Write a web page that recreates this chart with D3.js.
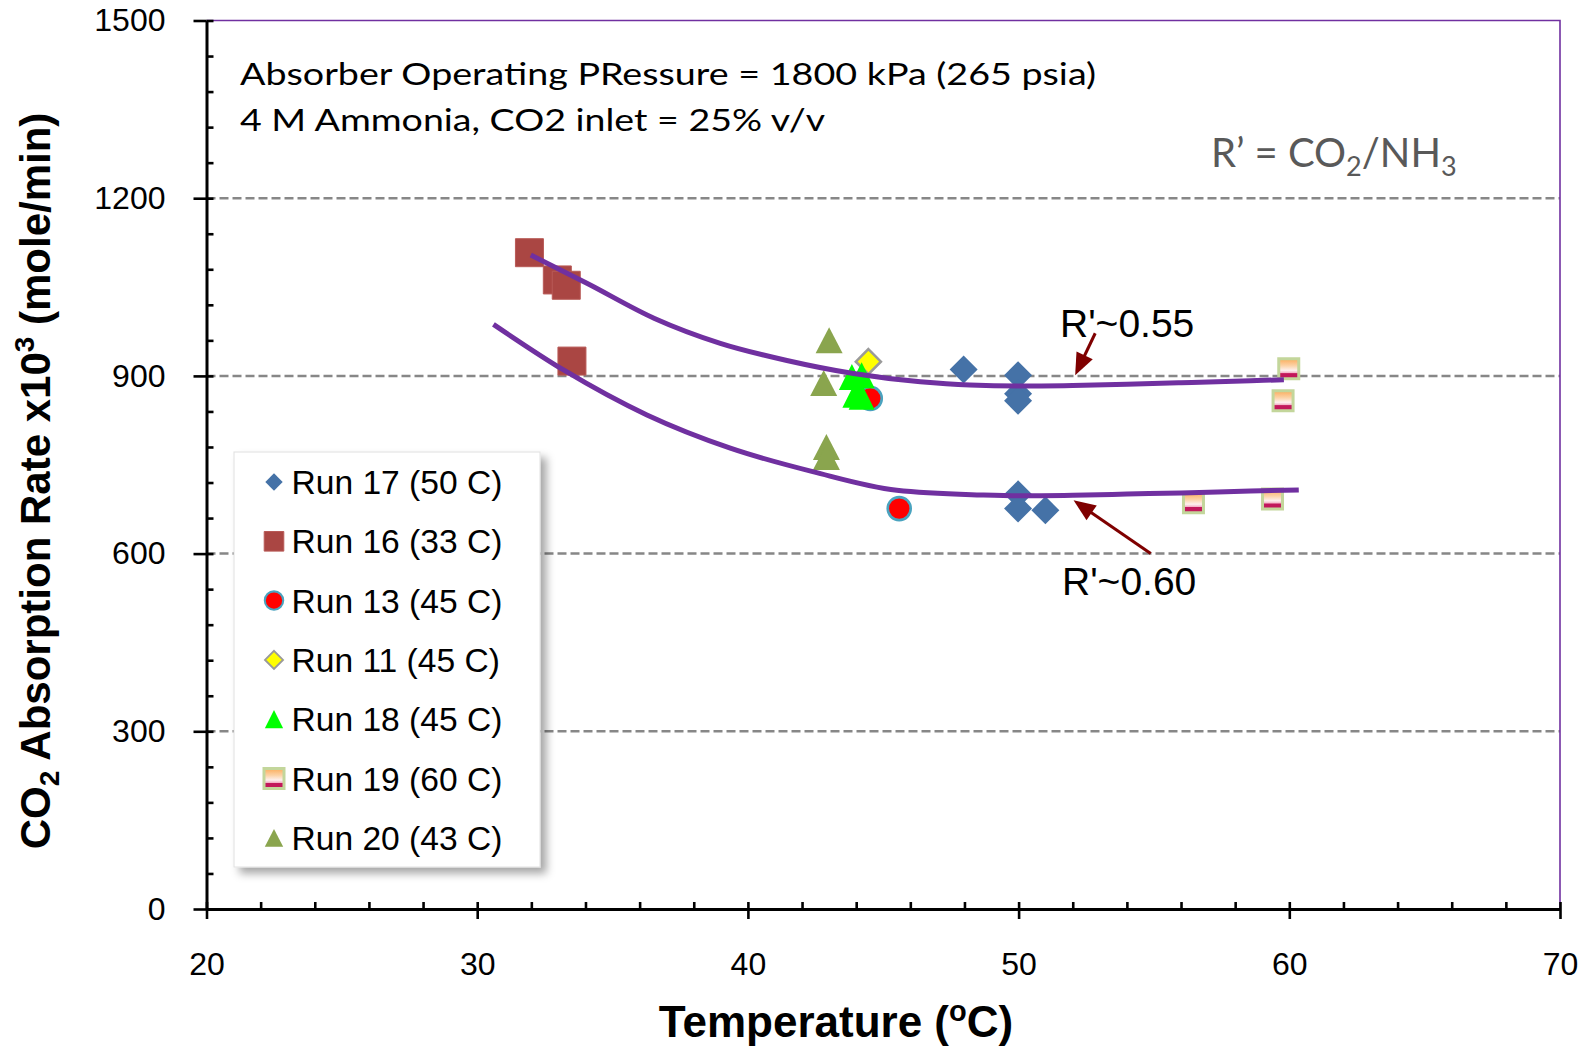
<!DOCTYPE html>
<html><head><meta charset="utf-8">
<script src="https://cdn.jsdelivr.net/npm/d3@7"></script>
<style>body{margin:0;background:#fff}svg{display:block}</style>
</head><body>
<svg id="c" width="1587" height="1047"></svg>
<script>
// ---- data (temperature °C, CO2 absorption rate x10^3 mole/min) ----
const run17 = [[47.97,911],[49.98,901],[49.98,870],[49.98,858],[49.98,700],[49.98,676],[50.99,673]];
const run16 = [[31.93,1108],[32.96,1062],[33.29,1053],[33.5,925]];
const run13 = [[44.52,862],[45.59,676]];
const run11 = [[44.45,924]];
const run18 = [[43.84,898],[44.2,901],[43.97,868],[44.2,865]];
const run19 = [[59.98,912],[59.77,858],[56.46,686],[59.38,692]];
const run20 = [[43.0,960],[42.8,888],[42.9,780],[42.9,763]];
const curve055 = [[31.98,1104],[34.07,1056],[36.55,997],[38.98,955],[41.44,926],[43.9,904],[46.37,890],[48.2,884.5],[50,883],[52,884],[54,886],[56,888.5],[58.57,891.8],[59.8,893.5]];
const curve060 = [[30.6,987],[33.19,910],[36.27,834],[39.35,778],[42.43,738],[45.5,707],[48.6,699],[50,697.5],[52,698.5],[54,700.5],[56,702.5],[58.57,705.6],[60.35,707.5]];
const xTicks = [20,30,40,50,60,70];
const yTicks = [0,300,600,900,1200,1500];
const gridValues = [300,600,900,1200];
const legendNames = ["Run 17 (50 C)","Run 16 (33 C)","Run 13 (45 C)","Run 11 (45 C)","Run 18 (45 C)","Run 19 (60 C)","Run 20 (43 C)"];
const label055 = {text:"R'~0.55", arrowFrom:[52.83,972], arrowTo:[52.09,901]};
const label060 = {text:"R'~0.60", arrowFrom:[54.88,600], arrowTo:[52.03,690]};

const svg = d3.select("#c");
const L=206.5,R=1560,T=20.5,B=909;
const x = d3.scaleLinear().domain([20,70]).range([L,R]);
const y = d3.scaleLinear().domain([0,1500]).range([B,T]);
const FONT = "'Liberation Sans', Arial, sans-serif";

const defs = svg.append("defs");
const g19 = defs.append("linearGradient").attr("id","g19").attr("x1",0).attr("y1",0).attr("x2",0).attr("y2",1);
[[0,"#fbac5a"],[0.35,"#fcd3a8"],[0.58,"#fdf0ee"],[0.7,"#f4b3c8"],[0.74,"#c2185b"],[1,"#c2185b"]]
  .forEach(([o,c])=>g19.append("stop").attr("offset",o).attr("stop-color",c));
const sh = defs.append("filter").attr("id","sh").attr("x","-10%").attr("y","-10%").attr("width","130%").attr("height","130%");
sh.append("feDropShadow").attr("dx",6).attr("dy",6).attr("stdDeviation",4).attr("flood-color","#000").attr("flood-opacity",0.35);

// gridlines
svg.append("g").selectAll("line").data(gridValues).join("line")
  .attr("x1",L).attr("x2",R).attr("y1",d=>y(d)).attr("y2",d=>y(d))
  .attr("stroke","#878787").attr("stroke-width",2.5).attr("stroke-dasharray","9,4");

// plot border top/right
svg.append("path").attr("d",`M${L},${T}H${R}V${B}`).attr("fill","none").attr("stroke","#7030a0").attr("stroke-width",1.6);

// shapes
function diamond(cx,cy,r){return `M${cx},${cy-r}L${cx+r},${cy}L${cx},${cy+r}L${cx-r},${cy}Z`;}
function square(cx,cy,s){const h=s/2;return `M${cx-h},${cy-h}h${s}v${s}h${-s}Z`;}
function tri(cx,cy,w,h){return `M${cx},${cy-h/2}L${cx+w/2},${cy+h/2}L${cx-w/2},${cy+h/2}Z`;}

const styles = [
  {data:run17, draw:(g,cx,cy,k)=>g.append("path").attr("d",diamond(cx,cy,14*k)).attr("fill","#4572a7")},
  {data:run16, draw:(g,cx,cy,k)=>g.append("path").attr("d",square(cx,cy,28*k)).attr("fill","#aa4643").attr("stroke","#b85a57").attr("stroke-width",1)},
  {data:run13, draw:(g,cx,cy,k)=>g.append("circle").attr("cx",cx).attr("cy",cy).attr("r",11.5*k).attr("fill","#ff0000").attr("stroke","#4aa3bf").attr("stroke-width",2.6*k)},
  {data:run11, draw:(g,cx,cy,k)=>g.append("path").attr("d",diamond(cx,cy,12.5*k)).attr("fill","#ffff00").attr("stroke","#9a9a9a").attr("stroke-width",2.6*k)},
  {data:run18, draw:(g,cx,cy,k)=>g.append("path").attr("d",tri(cx,cy,26*k,26*k)).attr("fill","#00ff00")},
  {data:run19, draw:(g,cx,cy,k)=>g.append("path").attr("d",square(cx,cy,20*k)).attr("fill","url(#g19)").attr("stroke","#c3d69b").attr("stroke-width",3)},
  {data:run20, draw:(g,cx,cy,k)=>g.append("path").attr("d",tri(cx,cy,27*k,26*k)).attr("fill","#8aa54e")}
];

const mg = svg.append("g");
styles.forEach(s=>s.data.forEach(d=>s.draw(mg,x(d[0]),y(d[1]),1)));

// trend curves
const line = d3.line().x(d=>x(d[0])).y(d=>y(d[1])).curve(d3.curveMonotoneX);
[curve055,curve060].forEach(c=>svg.append("path").attr("d",line(c)).attr("fill","none")
  .attr("stroke","#7030a0").attr("stroke-width",5).attr("stroke-linecap","butt"));

// axes
svg.append("g").attr("transform",`translate(0,${B})`)
  .call(d3.axisBottom(x).tickValues(xTicks).tickSizeInner(10).tickSizeOuter(0).tickPadding(33).tickFormat(d3.format("d")));
svg.append("g").attr("transform",`translate(0,${B})`)
  .call(d3.axisBottom(x).tickValues(d3.range(20,71,2)).tickSize(-7).tickFormat(""))
  .call(g=>g.select(".domain").remove());
svg.append("g").attr("transform",`translate(${L},0)`)
  .call(d3.axisLeft(y).tickValues(yTicks).tickSizeInner(13).tickSizeOuter(0).tickPadding(28).tickFormat(d3.format("d")));
svg.append("g").attr("transform",`translate(${L},0)`)
  .call(d3.axisLeft(y).tickValues(d3.range(0,1501,60)).tickSize(-7).tickFormat(""))
  .call(g=>g.select(".domain").remove());
svg.selectAll(".domain").attr("stroke","#000").attr("stroke-width",3);
svg.selectAll(".tick line").attr("stroke","#000").attr("stroke-width",2.6);
svg.selectAll(".tick text").attr("font-family",FONT).attr("font-size",32).attr("fill","#000");

// axis titles
const yl = svg.append("text").attr("transform","translate(50,481) rotate(-90)")
  .attr("text-anchor","middle").attr("font-family",FONT).attr("font-weight","bold").attr("font-size",42).attr("fill","#000");
yl.append("tspan").text("CO");
yl.append("tspan").attr("font-size",28).attr("dy",9).text("2");
yl.append("tspan").attr("dy",-9).text(" Absorption Rate x10");
yl.append("tspan").attr("font-size",28).attr("dy",-16).text("3");
yl.append("tspan").attr("dy",16).text(" (mole/min)");

const xl = svg.append("text").attr("x",836).attr("y",1037).attr("text-anchor","middle")
  .attr("font-family",FONT).attr("font-weight","bold").attr("font-size",44).attr("fill","#000");
xl.append("tspan").text("Temperature (");
xl.append("tspan").attr("font-size",29).attr("dy",-16).text("o");
xl.append("tspan").attr("dy",16).text("C)");

// top-left notes
const NF = "Lato, 'Open Sans', sans-serif";
svg.append("text").attr("x",240).attr("y",85).attr("font-family",NF).attr("font-size",31).attr("fill","#000")
  .attr("textLength",856).attr("lengthAdjust","spacingAndGlyphs").text("Absorber Operating PRessure = 1800 kPa (265 psia)");
svg.append("text").attr("x",240).attr("y",131).attr("font-family",NF).attr("font-size",31).attr("fill","#000")
  .attr("textLength",585).attr("lengthAdjust","spacingAndGlyphs").text("4 M Ammonia, CO2 inlet = 25% v/v");

const rt = svg.append("text").attr("x",1211).attr("y",167).attr("font-family",NF).attr("font-size",40).attr("fill","#595959");
rt.append("tspan").text("R\u2019 = CO");
rt.append("tspan").attr("font-size",27).attr("dy",9).text("2");
rt.append("tspan").attr("dy",-9).text("/NH");
rt.append("tspan").attr("font-size",27).attr("dy",9).text("3");

// R' labels + arrows
function arrow(from,to){
  const x1=x(from[0]),y1=y(from[1]),x2=x(to[0]),y2=y(to[1]);
  const dx=x2-x1,dy=y2-y1,len=Math.hypot(dx,dy),ux=dx/len,uy=dy/len;
  const hl=22,hw=9,bx=x2-ux*hl,by=y2-uy*hl;
  svg.append("line").attr("x1",x1).attr("y1",y1).attr("x2",bx+ux*2).attr("y2",by+uy*2)
    .attr("stroke","#7f0000").attr("stroke-width",3);
  svg.append("path").attr("d",`M${x2},${y2}L${bx-uy*hw},${by+ux*hw}L${bx+uy*hw},${by-ux*hw}Z`).attr("fill","#7f0000");
}
arrow(label055.arrowFrom,label055.arrowTo);
arrow(label060.arrowFrom,label060.arrowTo);
svg.append("text").attr("x",1060).attr("y",337).attr("font-family",FONT).attr("font-size",39).attr("fill","#000").text(label055.text);
svg.append("text").attr("x",1062).attr("y",595).attr("font-family",FONT).attr("font-size",39).attr("fill","#000").text(label060.text);

// legend
const lg = svg.append("g");
lg.append("rect").attr("x",234).attr("y",452).attr("width",306).attr("height",415)
  .attr("fill","#fff").attr("stroke","#e0e0e0").attr("stroke-width",1).attr("filter","url(#sh)");
const legendScale = [0.62,0.7,0.8,0.72,0.7,1.0,0.68];
legendNames.forEach((n,i)=>{
  const cy = 482 + i*59.3;
  const g = lg.append("g");
  styles[i].draw(g,274,cy,legendScale[i]);
  g.append("text").attr("x",291.5).attr("y",cy+12).attr("font-family",FONT).attr("font-size",33.6).attr("fill","#000").text(n);
});
</script>
</body></html>
